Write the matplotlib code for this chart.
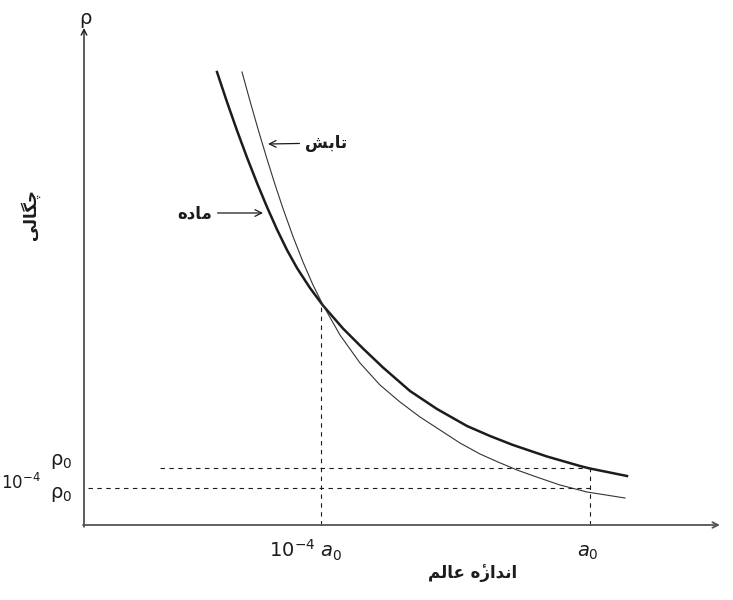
import matplotlib
matplotlib.use("Agg")
import matplotlib.pyplot as plt

# density curves (arbitrary units, x = size a, y = density rho)
matter_a = [2.66, 2.86, 3.06, 3.26, 3.46, 3.66, 3.86, 4.06, 4.26, 4.52, 4.78,
            5.18, 5.58, 5.98, 6.52, 7.06, 7.66, 8.12, 8.58, 9.26, 9.92, 10.12, 10.86]
matter_rho = [9.06, 8.46, 7.89, 7.35, 6.84, 6.36, 5.91, 5.50, 5.14, 4.74, 4.39,
              3.93, 3.53, 3.15, 2.68, 2.32, 1.98, 1.78, 1.60, 1.37, 1.18, 1.13, 0.98]
rad_a = [3.16, 3.32, 3.48, 3.66, 3.82, 3.98, 4.18, 4.38, 4.58, 4.78, 5.12, 5.52,
         5.92, 6.32, 6.72, 7.12, 7.52, 7.92, 8.28, 8.66, 9.08, 9.52, 10.06, 10.82]
rad_rho = [9.06, 8.48, 7.92, 7.32, 6.81, 6.33, 5.77, 5.26, 4.80, 4.40, 3.80, 3.24,
           2.80, 2.46, 2.16, 1.90, 1.64, 1.42, 1.26, 1.10, 0.95, 0.80, 0.66, 0.54]

a_eq = 4.74      # 10^-4 a0
rho_eq = 4.45
a_now = 10.12    # a0
rho_now = 1.15   # rho0
rho_low = 0.74   # 10^-4 rho0

# persian labels written in presentation forms, left to right (no shaping in matplotlib)
lbl_matter = "\uFEE9\uFEA9\uFE8E\uFEE3"                 # ماده
lbl_rad = "\uFEB6\uFE91\uFE8E\uFE97"                    # تابش
lbl_density = "\uFBFD\uFEDF\uFE8E\uFB95\uFB7C"          # چگالی
lbl_size = "\uFEE2\uFEDF\uFE8E\uFECB \uFEE9\u0654\uFEAF\uFE8D\uFEAA\uFEE7\uFE8D"  # اندازهٔ عالم

ink = '#1c1c1c'
fa = ['DejaVu Sans']

fig = plt.figure(figsize=(7.33, 6), dpi=100)
ax = fig.add_axes([0, 0, 1, 1])
ax.set_xlim(-1.68, 12.98)
ax.set_ylim(-1.5, 10.5)
ax.axis('off')

# axes with arrows
ax.annotate('', xy=(0, 9.94), xytext=(0, -0.04),
            arrowprops=dict(arrowstyle='->', color=ink, lw=1.0, shrinkA=0, shrinkB=0))
ax.annotate('', xy=(12.72, 0), xytext=(-0.02, 0),
            arrowprops=dict(arrowstyle='->', color='#555555', lw=1.3, shrinkA=0, shrinkB=0))
ax.text(0.02, 10.12, 'ρ', fontsize=14, ha='center', va='center', color=ink)

# curves
ax.plot(matter_a, matter_rho, color=ink, lw=1.8, solid_joinstyle='round')
ax.plot(rad_a, rad_rho, color='#333333', lw=0.8, solid_joinstyle='round')

# dashed guide lines
ax.plot([a_eq, a_eq], [0, rho_eq], color=ink, lw=0.8, dashes=(4, 4))
ax.plot([1.52, a_now], [rho_now, rho_now], color=ink, lw=0.8, dashes=(4, 4))
ax.plot([0.08, a_now], [rho_low, rho_low], color=ink, lw=0.8, dashes=(4, 4))
ax.plot([a_now, a_now], [0, rho_now], color=ink, lw=0.8, dashes=(4, 4))

# tick labels
ax.text(-0.24, rho_now + 0.12, 'ρ$_0$', fontsize=14, ha='right', va='center', color=ink)
ax.text(-0.24, rho_low - 0.12, 'ρ$_0$', fontsize=14, ha='right', va='center', color=ink)
ax.text(-0.86, rho_low + 0.1, '10$^{-4}$', fontsize=12, ha='right', va='center', color=ink)
ax.text(a_eq - 0.3, -0.5, '10$^{-4}$ $a_0$', fontsize=14, ha='center', va='center', color=ink)
ax.text(a_now - 0.04, -0.56, '$a_0$', fontsize=14, ha='center', va='center', color=ink)

# axis titles
ax.text(7.78, -0.96, lbl_size, fontsize=12, fontweight='bold', ha='center', va='center',
        color=ink, family=fa)
ax.text(-1.08, 6.2, lbl_density, fontsize=12, fontweight='bold', ha='center', va='center',
        rotation=90, color=ink, family=fa)

# curve labels with arrows
ax.annotate(lbl_rad, xy=(3.68, 7.62), xytext=(4.42, 7.64), fontsize=12, fontweight='bold',
            ha='left', va='center', color=ink, family=fa,
            arrowprops=dict(arrowstyle='->', color=ink, lw=0.9, shrinkA=2, shrinkB=0))
ax.annotate(lbl_matter, xy=(3.58, 6.24), xytext=(2.56, 6.24), fontsize=12, fontweight='bold',
            ha='right', va='center', color=ink, family=fa,
            arrowprops=dict(arrowstyle='->', color=ink, lw=0.9, shrinkA=2, shrinkB=0))

plt.savefig('out.png', dpi=100, facecolor='white')
